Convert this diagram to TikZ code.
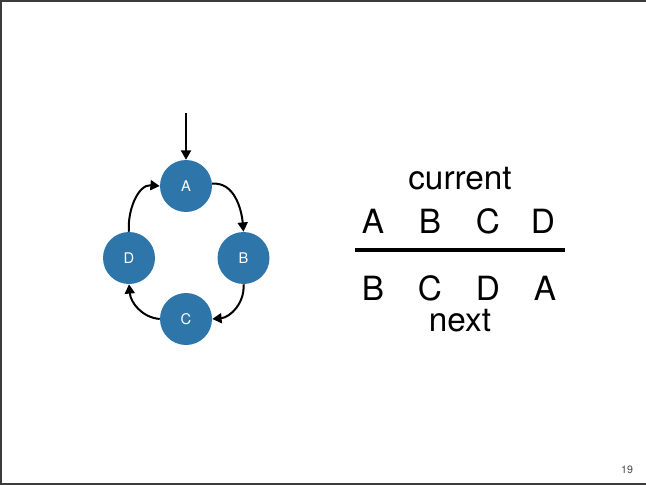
\documentclass[tikz,border=0pt]{standalone}
\usepackage{fontspec}
\setmainfont{TeX Gyre Heros}
\usetikzlibrary{arrows.meta,positioning}
\definecolor{stateblue}{RGB}{46,117,170}
\definecolor{framegray}{RGB}{60,60,60}

\begin{document}
\begin{tikzpicture}[x=0.75pt,y=-0.75pt,
    state/.style={circle, fill=stateblue, minimum size=39pt, inner sep=0pt,
        text=white, font=\fontsize{11}{13}\selectfont},
    move/.style={line width=1.5pt, -{Triangle[width=7.5pt,length=7pt]}},
    big/.style={font=\fontsize{25}{30}\selectfont, inner sep=0pt}]
			%%%%% START %%%%%
			\useasboundingbox (0, 0) rectangle (646, 485);
			
			% slide frame
			\draw[line width=1.5pt, color=framegray] (648, 1) -- (1, 1) -- (1, 483.5) -- (648, 483.5);
			
			% the four states
			\node[state] (A) at (186, 186) {A};
			\node[state] (B) at (243.5, 258) {B};
			\node[state] (C) at (186, 319) {C};
			\node[state] (D) at (129, 258) {D};
			
			\coordinate (start) at (186, 113);
			\draw[move] (start) -- (A.north);
			
			\draw[move] (A.5) to[out=5, in=95] (B.north);
			\draw[move] (B.south) to[out=-85, in=5] (C.east);
			\draw[move] (C.west) to[out=175, in=-85] (D.south);
			\draw[move] (D.north) to[out=95, in=175] (A.west);
			
			% table of current / next
			\node[big] (cur) at (460, 179) {current};
			\node[big] (c1) at (373, 221) {A};
			\node[big] (c2) at (430, 221) {B};
			\node[big] (c3) at (488, 221) {C};
			\node[big] (c4) at (543, 221) {D};
			
			\coordinate (barL) at (355, 249.5);
			\coordinate (barR) at (565, 249.5);
			\draw[line width=3pt] (barL) -- (barR);
			
			\node[big] (n1) at (373, 288) {B};
			\node[big] (n2) at (430, 288) {C};
			\node[big] (n3) at (488, 288) {D};
			\node[big] (n4) at (545, 288) {A};
			\node[big] (nxt) at (460, 321) {next};
			
			% page number
			\node[font=\fontsize{8}{10}\selectfont, text=black!70] (page) at (627, 470) {19};
			
			%%%%% END %%%%%
\end{tikzpicture}
\end{document}
